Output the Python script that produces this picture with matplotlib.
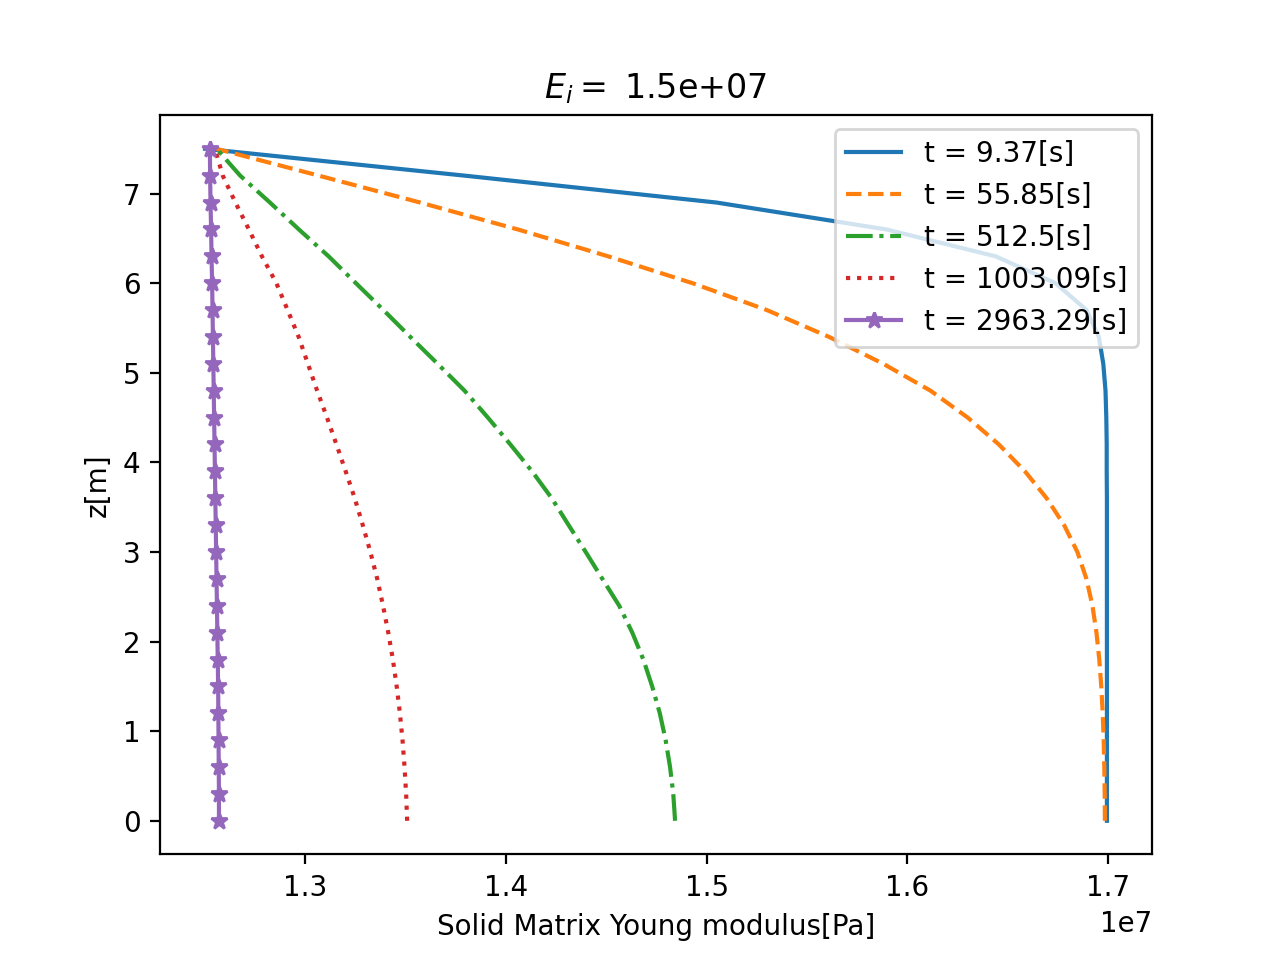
import numpy as np
from matplotlib import pyplot as plt

# depth grid [m], bottom to top
z = np.arange(26) * 0.3

# Young modulus profiles, in units of 1e7 Pa, listed from z = 0 upwards
E_1 = [1.6993, 1.6993, 1.6993, 1.6993, 1.6993, 1.6993, 1.6993, 1.6993,
       1.6993, 1.6993, 1.6993, 1.6993, 1.6993, 1.6992, 1.6992, 1.6990,
       1.6986, 1.6975, 1.6953, 1.6892, 1.6737, 1.6439, 1.5895, 1.5050,
       1.3797, 1.2503]
E_2 = [1.6983, 1.6982, 1.6980, 1.6977, 1.6972, 1.6965, 1.6955, 1.6941,
       1.6921, 1.6891, 1.6846, 1.6780, 1.6693, 1.6585, 1.6455, 1.6300,
       1.6115, 1.5880, 1.5610, 1.5300, 1.4930, 1.4510, 1.4060, 1.3574,
       1.3070, 1.2560]
E_3 = [1.4843, 1.4834, 1.4818, 1.4796, 1.4767, 1.4729, 1.4685, 1.4630,
       1.4565, 1.4481, 1.4398, 1.4313, 1.4229, 1.4131, 1.4023, 1.3911,
       1.3795, 1.3661, 1.3525, 1.3391, 1.3254, 1.3118, 1.2970, 1.2826,
       1.2678, 1.2560]
E_4 = [1.3509, 1.3504, 1.3496, 1.3486, 1.3473, 1.3457, 1.3438, 1.3415,
       1.3389, 1.3360, 1.3326, 1.3288, 1.3248, 1.3203, 1.3157, 1.3110,
       1.3061, 1.3015, 1.2969, 1.2914, 1.2858, 1.2786, 1.2721, 1.2654,
       1.2591, 1.2552]
E_5 = [1.2572, 1.2572, 1.2571, 1.2570, 1.2569, 1.2568, 1.2566, 1.2564,
       1.2562, 1.2560, 1.2558, 1.2556, 1.2554, 1.2552, 1.2550, 1.2548,
       1.2546, 1.2544, 1.2542, 1.2540, 1.2538, 1.2535, 1.2533, 1.2530,
       1.2528, 1.2527]

times = [9.37, 55.85, 512.5, 1003.09, 2963.29]
styles = ['-', '--', '-.', ':', '-*']
E_i = 1.5e7

fig = plt.figure(figsize=(6.4, 4.8), dpi=200)
for E, t, s in zip([E_1, E_2, E_3, E_4, E_5], times, styles):
    plt.plot(np.array(E) * 1e7, z, s, label='t = ' + str(t) + '[s]')

plt.title(r'$E_i = $ ' + '{:.1e}'.format(E_i))
plt.xlabel('Solid Matrix Young modulus[Pa]')
plt.ylabel('z[m]')
plt.legend(loc='upper right')
plt.savefig('out.png', dpi=200)
